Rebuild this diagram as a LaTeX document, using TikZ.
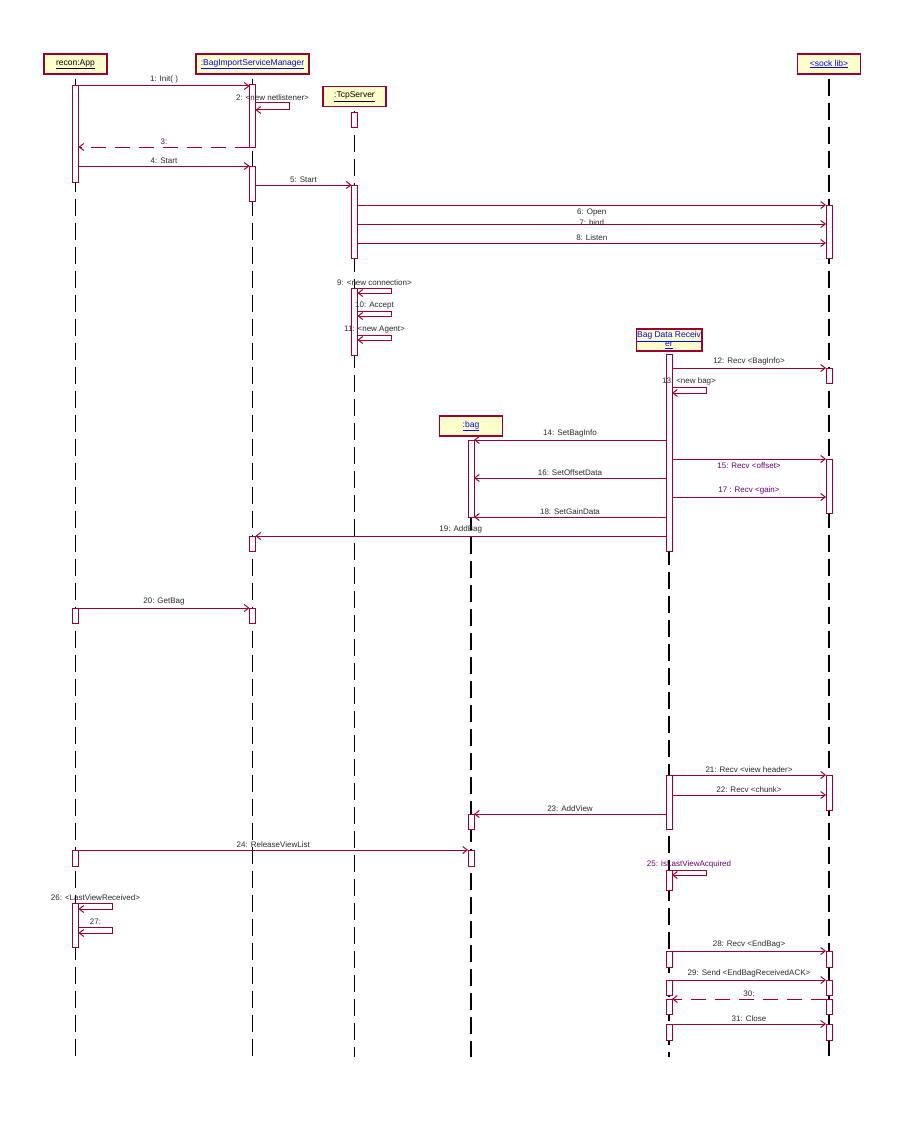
\documentclass[tikz,border=0pt]{standalone}
\usepackage{fontspec}
\setmainfont{Liberation Sans}
\usetikzlibrary{arrows.meta, calc}
\definecolor{umlred}{RGB}{153,0,51}
\definecolor{umlfill}{RGB}{255,255,204}
\definecolor{umlblue}{RGB}{0,0,255}
\definecolor{umlpurple}{RGB}{102,0,102}
\definecolor{labelgray}{RGB}{40,40,40}

\tikzset{
  hdr/.style={draw=umlred, fill=umlfill, line width=1.2pt, minimum width=63, minimum height=20,
    inner sep=2pt, font=\fontsize{8.5}{9}\selectfont, align=center},
  life/.style={black, line width=1.1pt, dash pattern=on 17pt off 7pt},
  act/.style={draw=umlred, fill=white, line width=1pt},
  msg/.style={umlred, line width=1pt, -{Straight Barb[length=4.5pt,width=7pt]}},
  ret/.style={msg, dash pattern=on 15pt off 9pt},
  lbl/.style={font=\fontsize{8}{9}\selectfont, text=labelgray, inner sep=1pt},
  lblup/.style={lbl, above=1pt},
  lbldn/.style={lbl, below=2pt},
  lblnear/.style={lbl, above=-3pt},
  lblupp/.style={lblup, text=umlpurple},
  lbldnp/.style={lbldn, text=umlpurple},
  lblself/.style={lbl, anchor=south},
  lblselfp/.style={lblself, text=umlpurple},
}

\begin{document}
\begin{tikzpicture}[x=1pt, y=-1pt]
  \useasboundingbox (0,0) rectangle (906,1129);

  % objects
  \node[hdr] (app) at (75.5,64) {\underline{recon:App}};
  \node[hdr, minimum width=113, text=umlblue] (bism) at (252.5,64) {\underline{:BagImportServiceManager}};
  \node[hdr] (tcp) at (354.5,96.5) {\underline{:TcpServer}};
  \node[hdr, text=umlblue] (sock) at (829,64) {\underline{<sock lib>}};
  \node[hdr, text=umlblue, minimum height=22, inner sep=1pt] (bdr) at (669,340) {\underline{Bag Data Receiv}\\\underline{er}};
  \node[hdr, text=umlblue] (bag) at (471,426) {\underline{:bag}};

  % lifelines
  \foreach \n in {app,bism,tcp,sock,bdr,bag}
    \draw[life] ([yshift=-4]\n.south) -- (\n |- 0,1057);

  % activations
  \foreach \n/\ya/\yb in {app/86/182, app/608/623, app/850/866, app/903/947,
      bism/85/147, bism/166/201, bism/536/551, bism/608/623,
      tcp/113/128, tcp/185/258, tcp/288/355,
      bag/440/517, bag/814/829, bag/850/866,
      bdr/354/551, bdr/775/829, bdr/870/890, bdr/951/967, bdr/980/995, bdr/999/1014, bdr/1024/1040,
      sock/205/258, sock/368/383, sock/459/513, sock/775/810, sock/951/967, sock/980/995, sock/999/1014, sock/1024/1040}
    \draw[act] ($(\n |- 0,\ya)+(-3,0)$) rectangle ($(\n |- 0,\yb)+(3,0)$);

  % calls to the right
  \foreach \y/\a/\b/\st/\txt in {86/app/bism/lblup/{1: Init( )},
      166/app/bism/lblup/{4: Start},
      185/bism/tcp/lblup/{5: Start},
      205/tcp/sock/lbldn/{6: Open},
      224/tcp/sock/lblnear/{7: bind},
      243/tcp/sock/lblup/{8: Listen},
      368/bdr/sock/lblup/{12: Recv <BagInfo>},
      459/bdr/sock/lbldnp/{15: Recv <offset>},
      497/bdr/sock/lblupp/{17 : Recv <gain>},
      608/app/bism/lblup/{20: GetBag},
      775/bdr/sock/lblup/{21: Recv <view header>},
      795/bdr/sock/lblup/{22: Recv <chunk>},
      850/app/bag/lblup/{24: ReleaseViewList},
      951/bdr/sock/lblup/{28: Recv <EndBag>},
      980/bdr/sock/lblup/{29: Send <EndBagReceivedACK>},
      1024/bdr/sock/lblup/{31: Close}}
    \draw[msg] ($(\a |- 0,\y)+(3,0)$) -- ($(\b |- 0,\y)+(-3,0)$) node[midway, \st] {\txt};

  % calls to the left
  \foreach \y/\a/\b/\txt in {440/bdr/bag/{14: SetBagInfo},
      478/bdr/bag/{16: SetOffsetData},
      517/bdr/bag/{18: SetGainData},
      536/bdr/bism/{19: AddBag},
      814/bdr/bag/{23: AddView}}
    \draw[msg] ($(\a |- 0,\y)+(-3,0)$) -- ($(\b |- 0,\y)+(3,0)$) node[midway, lblup] {\txt};

  % returns
  \foreach \y/\a/\b/\st/\txt in {147/bism/app/lblupp/{3:}, 999/sock/bdr/lblup/{30:}}
    \draw[ret] ($(\a |- 0,\y)+(-3,0)$) -- ($(\b |- 0,\y)+(3,0)$) node[midway, \st] {\txt};

  % self calls
  \foreach \n/\ya/\yb/\st/\txt in {bism/103/110/lblself/{2: <new netlistener>},
      tcp/288/293/lblself/{9: <new connection>},
      tcp/311/316/lblself/{10: Accept},
      tcp/335/340/lblself/{11: <new Agent>},
      bdr/387/393/lblself/{13: <new bag>},
      bdr/870/875/lblselfp/{25: IsLastViewAcquired},
      app/903/909/lblself/{26: <LastViewReceived>},
      app/927/933/lblself/{27:}}{
    \draw[msg] ($(\n |- 0,\ya)+(3,0)$) -- ++(34,0) |- ($(\n |- 0,\yb)+(3,0)$);
    \node[\st] at ($(\n |- 0,\ya)+(20,-1)$) {\txt};
  }
\end{tikzpicture}
\end{document}
